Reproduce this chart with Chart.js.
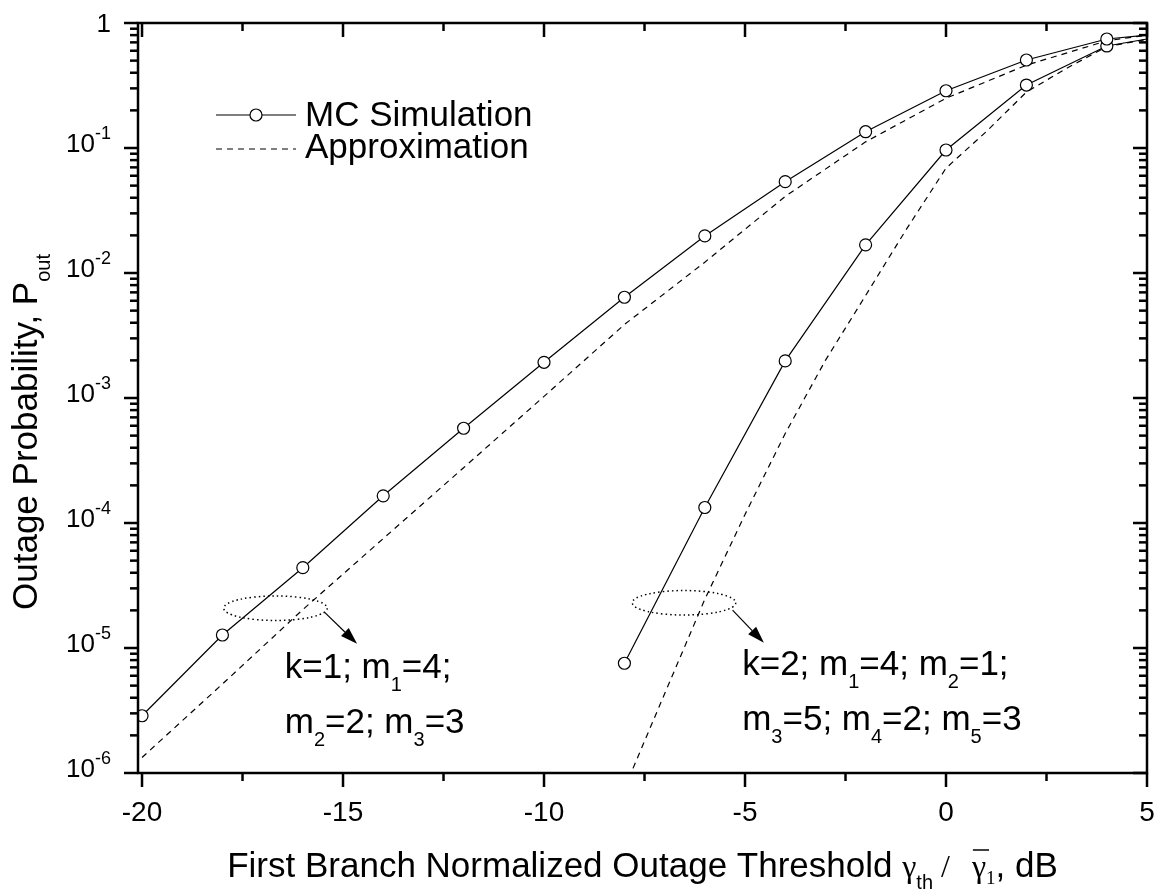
<!DOCTYPE html>
<html>
<head>
<meta charset="utf-8">
<script src="https://cdn.jsdelivr.net/npm/chart.js@4.4.0/dist/chart.umd.min.js"></script>
<style>
  html, body { margin: 0; padding: 0; background: #fff; }
  canvas { display: block; }
</style>
</head>
<body>
<canvas id="outageChart" width="1159" height="896"></canvas>
<script>
// threshold values (dB) and outage probabilities
const xSimK1 = [-20, -18, -16, -14, -12, -10, -8, -6, -4, -2, 0, 2, 4, 5];
const simK1 = [2.87e-6, 1.27e-5, 4.39e-5, 1.65e-4, 5.73e-4, 1.93e-3, 6.4e-3, 1.98e-2, 5.38e-2, 0.135, 0.287, 0.506, 0.745, 0.80];
const xApproxK1 = [-20, -18, -16, -14, -12, -10, -8, -6, -4, -2, 0, 2, 4, 5];
const approxK1 = [1.33e-6, 5.15e-6, 2.03e-5, 7.5e-5, 2.77e-4, 1.03e-3, 3.87e-3, 1.22e-2, 4.1e-2, 0.112, 0.25, 0.46, 0.72, 0.80];
const xSimK2 = [-8, -6, -4, -2, 0, 2, 4, 5];
const simK2 = [7.55e-6, 1.33e-4, 1.98e-3, 1.68e-2, 0.0964, 0.319, 0.655, 0.745];
const xApproxK2 = [-8, -7, -6, -5, -4, -3, -2, -1, 0, 1, 2, 3, 4, 5];
const approxK2 = [7.5e-7, 4.3e-6, 2.45e-5, 1.17e-4, 5.2e-4, 2.0e-3, 6.6e-3, 0.022, 0.069, 0.135, 0.28, 0.434, 0.647, 0.74];

const xTickValues = [-20, -15, -10, -5, 0, 5];
const yTickExponents = [0, -1, -2, -3, -4, -5, -6];

const SANS = '"Liberation Sans", Arial, sans-serif';
const SERIF = '"Liberation Serif", "Times New Roman", serif';
const MAIN = '35px ' + SANS;
const SUB = '20px ' + SANS;

const pts = (xs, ys) => xs.map((x, i) => ({ x: x, y: ys[i] }));
// markers only on the simulated points, not on the end point at 5 dB
const markerRadii = xs => xs.map(x => (x === 5 ? 0 : 6));

// the two dotted-ellipse callouts, in data units
const callouts = [
  {
    cx: -16.68, cy: 2.08e-5, rx: 1.287, ryDec: 0.098,
    from: [-15.45, 1.92e-5], to: [-14.65, 1.08e-5],
    tx: -16.45, lines: [
      { y: 5.75e-6, parts: [{ t: 'k=1; m' }, { t: '1', sub: true }, { t: '=4;' }] },
      { y: 2.09e-6, parts: [{ t: 'm' }, { t: '2', sub: true }, { t: '=2; m' }, { t: '3', sub: true }, { t: '=3' }] }
    ]
  },
  {
    cx: -6.517, cy: 2.3e-5, rx: 1.287, ryDec: 0.098,
    from: [-5.31, 2.01e-5], to: [-4.53, 1.10e-5],
    tx: -5.07, lines: [
      { y: 6.08e-6, parts: [{ t: 'k=2; m' }, { t: '1', sub: true }, { t: '=4; m' }, { t: '2', sub: true }, { t: '=1;' }] },
      { y: 2.21e-6, parts: [{ t: 'm' }, { t: '3', sub: true }, { t: '=5; m' }, { t: '4', sub: true }, { t: '=2; m' }, { t: '5', sub: true }, { t: '=3' }] }
    ]
  }
];

// draws a row of text pieces left to right, returns total width
function drawRuns(ctx, x, y, parts, measureOnly) {
  let cx = x;
  parts.forEach(p => {
    ctx.font = p.font || (p.sub ? SUB : MAIN);
    const w = ctx.measureText(p.t).width;
    const dy = p.dy !== undefined ? p.dy : (p.sub ? 13 : 0);
    if (!measureOnly) {
      ctx.fillText(p.t, cx, y + dy);
      if (p.bar) {
        ctx.beginPath();
        ctx.lineWidth = 1.5;
        ctx.moveTo(cx + 1, y - 27);
        ctx.lineTo(cx + w + 3, y - 27);
        ctx.stroke();
      }
    }
    cx += w + (p.gap || 0);
  });
  return cx - x;
}

function seg(ctx, x1, y1, x2, y2) {
  ctx.beginPath();
  ctx.moveTo(x1, y1);
  ctx.lineTo(x2, y2);
  ctx.stroke();
}

const originStyle = {
  id: 'originStyle',
  afterDatasetsDraw(chart) {
    const { ctx, chartArea: a, scales: { x, y } } = chart;
    ctx.save();
    ctx.strokeStyle = '#000';
    ctx.fillStyle = '#000';

    // frame
    ctx.lineWidth = 2.5;
    ctx.strokeRect(a.left, a.top, a.right - a.left, a.bottom - a.top);

    // x ticks: outward at bottom, inward at top
    for (let v = -20; v <= 5; v += 2.5) {
      const px = x.getPixelForValue(v);
      const len = v % 5 === 0 ? 14 : 8;
      seg(ctx, px, a.bottom, px, a.bottom + len);
      seg(ctx, px, a.top, px, a.top + len);
    }
    // y ticks: outward at left, inward at right
    for (let e = -6; e <= 0; e++) {
      for (let m = 1; m <= 9; m++) {
        if (e === 0 && m > 1) break;
        const py = y.getPixelForValue(m * Math.pow(10, e));
        const len = m === 1 ? 14 : 8;
        seg(ctx, a.left - len, py, a.left, py);
        seg(ctx, a.right - len, py, a.right, py);
      }
    }

    // x tick labels
    ctx.font = '28px ' + SANS;
    ctx.textAlign = 'center';
    ctx.textBaseline = 'alphabetic';
    xTickValues.forEach(v => ctx.fillText(String(v), x.getPixelForValue(v), a.bottom + 48));

    // y tick labels with superscript exponents
    ctx.textAlign = 'left';
    yTickExponents.forEach(e => {
      const py = y.getPixelForValue(Math.pow(10, e));
      const right = a.left - 27;
      if (e === 0) {
        ctx.font = '26px ' + SANS;
        const w = ctx.measureText('1').width;
        ctx.fillText('1', right - w, py + 9);
        return;
      }
      const parts = [
        { t: '10', font: '26px ' + SANS, dy: 4 },
        { t: String(e), font: '18px ' + SANS, dy: -9 }
      ];
      const w = drawRuns(ctx, 0, 0, parts, true);
      drawRuns(ctx, right - w, py, parts);
    });

    // x axis title
    const xTitle = [
      { t: 'First Branch Normalized Outage Threshold ', font: MAIN },
      { t: 'γ', font: '32px ' + SERIF },
      { t: 'th', font: SUB, dy: 12, gap: 8 },
      { t: '/', font: '32px ' + SERIF, gap: 22 },
      { t: 'γ', font: '32px ' + SERIF, bar: true },
      { t: '1', font: '19px ' + SERIF, dy: 7 },
      { t: ', dB', font: MAIN }
    ];
    const xw = drawRuns(ctx, 0, 0, xTitle, true);
    drawRuns(ctx, (a.left + a.right) / 2 - xw / 2, 877, xTitle);

    // y axis title, rotated
    const yTitle = [
      { t: 'Outage Probability, P', font: MAIN },
      { t: 'out', font: SUB, dy: 13 }
    ];
    const yw = drawRuns(ctx, 0, 0, yTitle, true);
    ctx.save();
    ctx.translate(37, 432);
    ctx.rotate(-Math.PI / 2);
    drawRuns(ctx, -yw / 2, 0, yTitle);
    ctx.restore();

    // legend
    ctx.lineWidth = 1.2;
    seg(ctx, 216, 115, 296, 115);
    ctx.beginPath();
    ctx.arc(256, 115, 6, 0, Math.PI * 2);
    ctx.fillStyle = '#fff';
    ctx.fill();
    ctx.stroke();
    ctx.fillStyle = '#000';
    ctx.setLineDash([6, 5]);
    seg(ctx, 216, 149, 296, 149);
    ctx.setLineDash([]);
    ctx.font = MAIN;
    ctx.fillText('MC Simulation', 305, 126);
    ctx.fillText('Approximation', 305, 158);

    // callouts: dotted ellipse, arrow, parameter text
    callouts.forEach(c => {
      const ex = x.getPixelForValue(c.cx);
      const ey = y.getPixelForValue(c.cy);
      const rx = x.getPixelForValue(c.cx + c.rx) - ex;
      const ry = ey - y.getPixelForValue(c.cy * Math.pow(10, c.ryDec));
      ctx.lineWidth = 1.5;
      ctx.setLineDash([1.5, 3]);
      ctx.beginPath();
      ctx.ellipse(ex, ey, rx, ry, 0, 0, Math.PI * 2);
      ctx.stroke();
      ctx.setLineDash([]);

      const x1 = x.getPixelForValue(c.from[0]), y1 = y.getPixelForValue(c.from[1]);
      const x2 = x.getPixelForValue(c.to[0]), y2 = y.getPixelForValue(c.to[1]);
      const ang = Math.atan2(y2 - y1, x2 - x1);
      const hl = 17, hw = 5.5;
      const bx = x2 - hl * Math.cos(ang), by = y2 - hl * Math.sin(ang);
      ctx.lineWidth = 1.2;
      seg(ctx, x1, y1, bx, by);
      ctx.beginPath();
      ctx.moveTo(x2, y2);
      ctx.lineTo(bx - hw * Math.sin(ang), by + hw * Math.cos(ang));
      ctx.lineTo(bx + hw * Math.sin(ang), by - hw * Math.cos(ang));
      ctx.closePath();
      ctx.fill();

      const tx = x.getPixelForValue(c.tx);
      c.lines.forEach(l => drawRuns(ctx, tx, y.getPixelForValue(l.y), l.parts));
    });

    ctx.restore();
  }
};

const ctx = document.getElementById('outageChart').getContext('2d');
new Chart(ctx, {
  type: 'line',
  data: {
    datasets: [
      {
        label: 'MC Simulation k=1',
        data: pts(xSimK1, simK1),
        borderColor: '#000', borderWidth: 1.2,
        pointRadius: markerRadii(xSimK1),
        pointBackgroundColor: '#fff', pointBorderColor: '#000', pointBorderWidth: 1.2
      },
      {
        label: 'MC Simulation k=2',
        data: pts(xSimK2, simK2),
        borderColor: '#000', borderWidth: 1.2,
        pointRadius: markerRadii(xSimK2),
        pointBackgroundColor: '#fff', pointBorderColor: '#000', pointBorderWidth: 1.2
      },
      {
        label: 'Approximation k=1',
        data: pts(xApproxK1, approxK1),
        borderColor: '#000', borderWidth: 1.2, borderDash: [6, 5],
        pointRadius: 0
      },
      {
        label: 'Approximation k=2',
        data: pts(xApproxK2, approxK2),
        borderColor: '#000', borderWidth: 1.2, borderDash: [6, 5],
        pointRadius: 0
      }
    ]
  },
  options: {
    responsive: false,
    animation: false,
    layout: { padding: { left: 138, right: 12, top: 23, bottom: 123 } },
    plugins: { legend: { display: false }, tooltip: { enabled: false } },
    scales: {
      x: {
        type: 'linear', min: -20.1, max: 5,
        grid: { display: false }, border: { display: false },
        ticks: { display: false },
        afterFit: s => { s.height = 0; }
      },
      y: {
        type: 'logarithmic', min: 1e-6, max: 1,
        grid: { display: false }, border: { display: false },
        ticks: { display: false },
        afterFit: s => { s.width = 0; }
      }
    }
  },
  plugins: [originStyle]
});
</script>
</body>
</html>
